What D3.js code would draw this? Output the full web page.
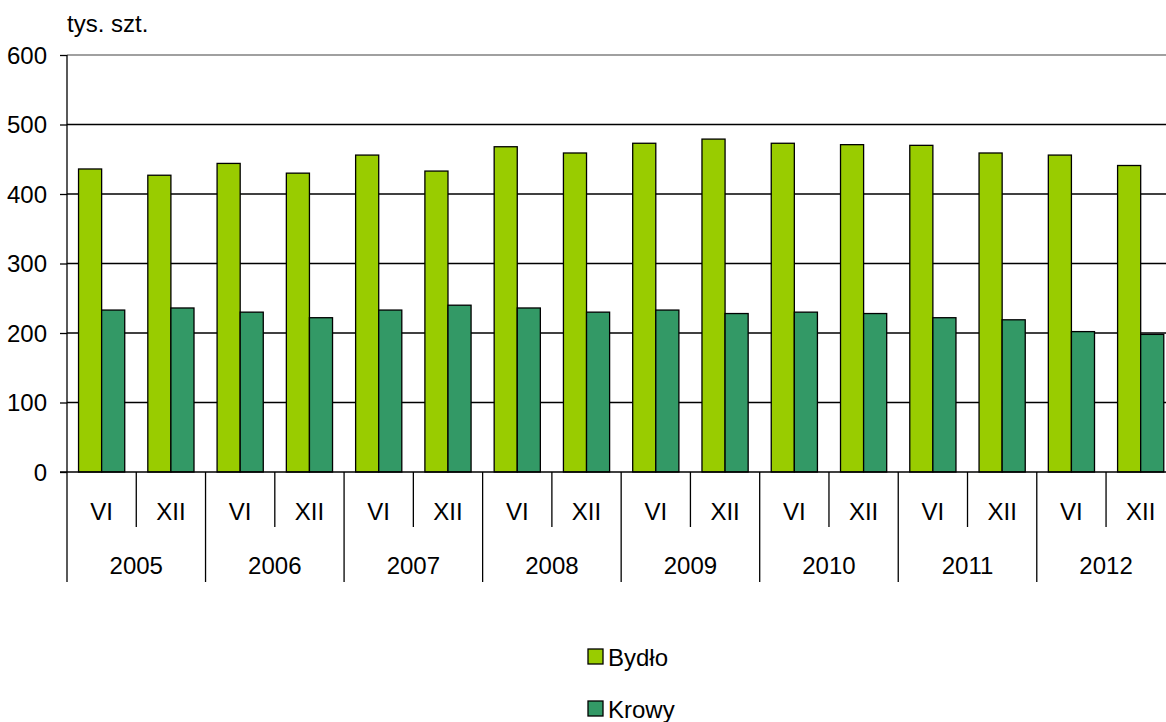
<!DOCTYPE html>
<html>
  <head>
    <meta charset="utf-8" />
    <title>Bydło i krowy</title>
    <script src="https://d3js.org/d3.v7.min.js"></script>
    <style>
      body { margin: 0; background: #fff; }
      text { font-family: "Liberation Sans", Arial, sans-serif; fill: #000; }
    </style>
  </head>
  <body>
    <svg width="1166" height="722" id="chart"></svg>

    <script>
        // data (tys. szt.)
        var years = ["2005", "2006", "2007", "2008", "2009", "2010", "2011", "2012"];
        var months = ["VI", "XII"];
        var bydlo = [436, 427, 444, 430, 456, 433, 468, 459, 473, 479, 473, 471, 470, 459, 456, 441];
        var krowy = [233, 236, 230, 222, 233, 240, 236, 230, 233, 228, 230, 228, 222, 219, 202, 198];
        var yTicks = [0, 100, 200, 300, 400, 500, 600];
        var seriesNames = ["Bydło", "Krowy"];
        var colors = ["#99cc00", "#339966"];

        // one entry per half-year
        var cats = [];
        years.forEach(function(yr) {
            months.forEach(function(m) { cats.push({ year: yr, month: m }); });
        });

        var svg = d3.select("#chart");
        // note: "top" is taken by window.top, so use other names
        var plotLeft = 67, plotTop = 55, plotBottom = 472;
        var step = 69.27;

        var x = d3.scaleBand()
            .domain(d3.range(cats.length))
            .range([plotLeft, plotLeft + step * cats.length])
            .padding(0);

        var xs = d3.scaleBand()
            .domain([0, 1])
            .range([0, x.bandwidth()])
            .paddingInner(0)
            .paddingOuter(0.5);

        var y = d3.scaleLinear().domain([0, 600]).range([plotBottom, plotTop]);

        // gridlines
        svg.append("g").selectAll("line")
            .data(yTicks.filter(function(d) { return d > 0; }))
            .enter().append("line")
            .attr("x1", plotLeft).attr("x2", 1166)
            .attr("y1", function(d) { return y(d); })
            .attr("y2", function(d) { return y(d); })
            .attr("stroke", function(d) { return d === 600 ? "#808080" : "#000"; })
            .attr("stroke-width", 1.3);

        // bars
        var series = [bydlo, krowy];
        series.forEach(function(vals, s) {
            svg.append("g").selectAll("rect")
                .data(vals)
                .enter().append("rect")
                .attr("x", function(d, i) { return x(i) + xs(s); })
                .attr("y", function(d) { return y(d); })
                .attr("width", xs.bandwidth())
                .attr("height", function(d) { return plotBottom - y(d); })
                .attr("fill", colors[s])
                .attr("stroke", "#000")
                .attr("stroke-width", 1.3);
        });

        // y axis
        var yAxis = svg.append("g")
            .attr("transform", "translate(" + plotLeft + ",0)")
            .call(d3.axisLeft(y).tickValues(yTicks).tickSize(7).tickPadding(13));
        yAxis.select(".domain").attr("stroke", "#000").attr("stroke-width", 1.3)
            .attr("d", "M0," + plotTop + "V" + plotBottom);
        yAxis.selectAll(".tick line").attr("stroke", "#000").attr("stroke-width", 1.3);
        yAxis.selectAll(".tick text")
            .style("font-family", "'Liberation Sans', Arial, sans-serif")
            .style("font-size", "24px").attr("dy", "0.35em");

        // x axis base line
        svg.append("line")
            .attr("x1", plotLeft - 7).attr("x2", 1166)
            .attr("y1", plotBottom).attr("y2", plotBottom)
            .attr("stroke", "#000").attr("stroke-width", 1.3);

        // category separators: long at year boundaries, short between months
        svg.append("g").selectAll("line")
            .data(d3.range(cats.length + 1))
            .enter().append("line")
            .attr("x1", function(k) { return plotLeft + step * k; })
            .attr("x2", function(k) { return plotLeft + step * k; })
            .attr("y1", plotBottom)
            .attr("y2", function(k) { return k % 2 === 0 ? 582 : 527; })
            .attr("stroke", "#000").attr("stroke-width", 1.3);

        // month labels
        svg.append("g").selectAll("text")
            .data(cats)
            .enter().append("text")
            .attr("x", function(d, i) { return x(i) + x.bandwidth() / 2; })
            .attr("y", 520)
            .attr("text-anchor", "middle")
            .style("font-size", "24px")
            .text(function(d) { return d.month; });

        // year labels
        svg.append("g").selectAll("text")
            .data(years)
            .enter().append("text")
            .attr("x", function(d, i) { return x(i * 2) + x.bandwidth(); })
            .attr("y", 574)
            .attr("text-anchor", "middle")
            .style("font-size", "24px")
            .text(function(d) { return d; });

        // unit label
        svg.append("text")
            .attr("x", 67).attr("y", 32)
            .style("font-size", "24px")
            .text("tys. szt.");

        // legend
        var legend = svg.append("g").selectAll("g")
            .data(seriesNames)
            .enter().append("g")
            .attr("transform", function(d, i) { return "translate(588," + (649 + i * 52) + ")"; });
        legend.append("rect")
            .attr("width", 15).attr("height", 15)
            .attr("fill", function(d, i) { return colors[i]; })
            .attr("stroke", "#000").attr("stroke-width", 1.3);
        legend.append("text")
            .attr("x", 20).attr("y", 17)
            .style("font-size", "24px")
            .text(function(d) { return d; });
    </script>
  </body>
</html>
